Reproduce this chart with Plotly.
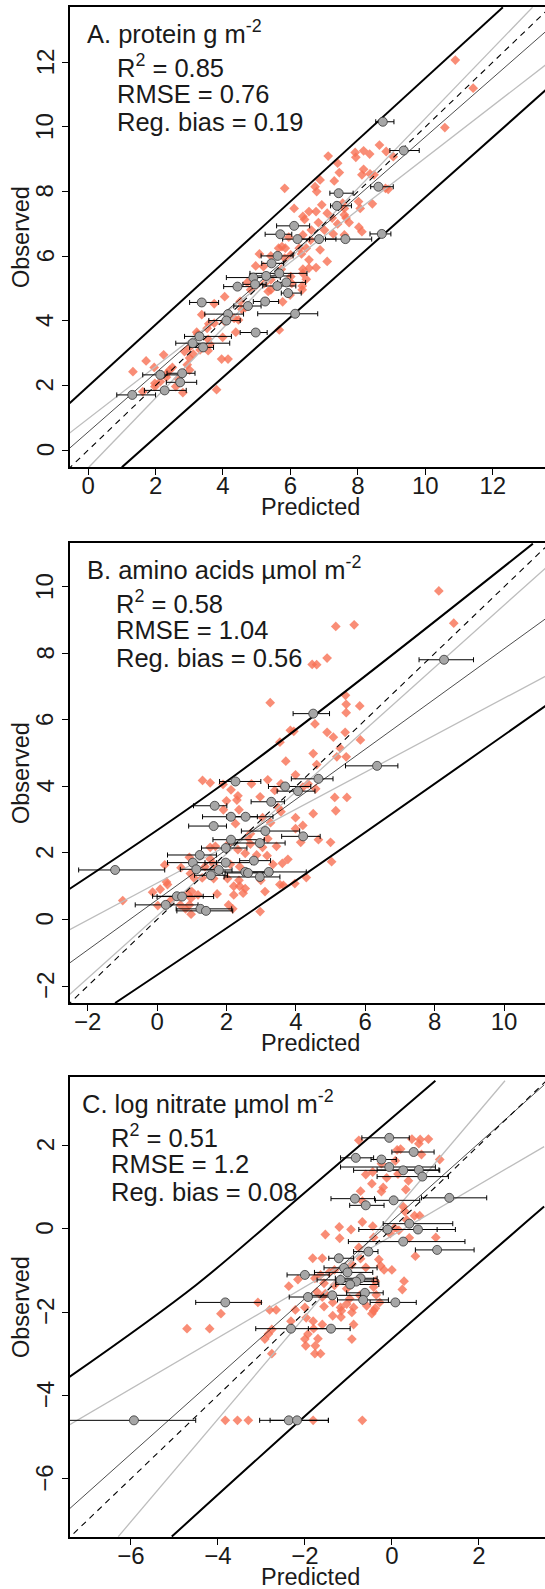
import plotly.graph_objects as go

# ---------------- Panel A : protein g m-2 ----------------
a_pred = [10.89, 11.42, 10.58, 8.64, 8.17, 8.35, 8.84, 9.05, 7.92, 7.94, 7.12, 7.40, 7.45, 8.17, 8.12, 8.36, 8.48,
          7.30, 6.88, 6.73, 6.78, 5.83, 8.82, 8.90, 8.02, 8.43, 8.07, 7.55, 7.60, 6.93, 6.11, 6.55, 6.76, 6.37,
          6.42, 7.09, 7.24, 7.60, 7.65, 7.74, 7.40, 8.03, 8.12, 6.83, 7.01, 6.62, 7.27, 7.60, 6.37, 6.60, 5.95,
          5.85, 5.65, 5.75, 6.88, 6.26, 6.47, 5.08, 5.42, 6.01, 5.83, 6.33, 6.55, 7.09, 6.76, 6.55, 4.97, 5.20,
          6.37, 5.73, 6.01, 6.37, 6.47, 5.42, 4.72, 4.97, 5.23, 6.04, 6.35, 4.82, 5.34, 5.42, 6.35, 5.99, 4.05,
          4.51, 5.77, 3.74, 4.56, 4.66, 3.37, 4.33, 4.46, 4.05, 3.74, 3.58, 3.53, 3.22, 4.38, 5.67, 3.25, 3.99,
          3.56, 3.61, 3.01, 3.32, 3.56, 2.86, 3.12, 2.24, 3.01, 3.96, 4.15, 1.72, 2.94, 1.96, 2.50, 2.42, 3.01,
          1.33, 2.34, 2.32, 1.98, 2.14, 2.67, 2.60, 3.81, 1.98, 2.81, 1.62]
a_obs = [12.07, 11.20, 9.98, 9.44, 9.26, 9.16, 9.24, 9.08, 9.21, 9.06, 9.10, 8.88, 8.59, 8.69, 8.52, 8.55, 8.52,
         8.33, 8.36, 8.15, 8.00, 8.10, 8.10, 8.07, 7.69, 7.62, 7.48, 7.64, 7.48, 7.59, 7.48, 7.38, 7.38, 7.23,
         7.14, 7.33, 7.18, 7.28, 7.18, 7.04, 7.00, 6.90, 6.76, 7.04, 6.81, 6.81, 6.69, 6.66, 6.66, 6.50, 6.59,
         6.25, 6.25, 6.30, 6.20, 6.25, 6.25, 6.07, 6.01, 6.04, 5.94, 6.07, 5.89, 5.84, 5.65, 5.63, 5.70, 5.68,
         5.60, 5.60, 5.37, 5.47, 5.29, 5.27, 5.19, 5.08, 5.16, 5.16, 5.08, 4.96, 4.91, 4.96, 4.96, 4.80, 4.75,
         4.60, 4.59, 4.53, 4.36, 4.41, 4.19, 4.08, 4.03, 3.98, 3.93, 3.91, 3.77, 3.65, 3.65, 3.72, 3.59, 3.49,
         3.43, 3.28, 3.18, 3.10, 3.08, 3.05, 2.97, 2.95, 2.85, 2.82, 2.82, 2.76, 2.64, 2.56, 2.56, 2.48, 2.48,
         2.43, 2.38, 2.26, 2.07, 2.12, 2.21, 1.97, 1.87, 1.97, 1.78, 1.81]
a_grp_pred = [8.74, 9.36, 8.61, 7.43, 7.38, 6.11, 5.70, 6.21, 6.85, 7.63, 8.71, 5.62, 5.44, 5.67, 5.28, 4.90, 4.95,
              4.43, 5.61, 5.88, 5.93, 5.25, 3.37, 4.74, 4.15, 6.14, 4.10, 4.97, 3.30, 3.10, 3.41, 2.14, 2.79, 2.73,
              2.27, 1.31]
a_grp_obs = [10.16, 9.27, 8.15, 7.95, 7.56, 6.94, 6.68, 6.53, 6.53, 6.53, 6.69, 6.01, 5.78, 5.47, 5.39, 5.34, 5.13,
             5.06, 5.08, 5.19, 4.86, 4.60, 4.57, 4.46, 4.21, 4.22, 4.01, 3.64, 3.52, 3.31, 3.18, 2.33, 2.38, 2.10,
             1.85, 1.71]
a_grp_lo = [8.53, 8.95, 8.38, 7.17, 7.19, 5.59, 5.25, 5.77, 6.21, 7.04, 8.36, 5.13, 5.15, 4.80, 4.80, 4.10, 4.59,
            4.02, 5.18, 5.62, 5.73, 4.90, 3.01, 4.32, 3.46, 5.03, 3.58, 4.51, 2.86, 2.60, 3.01, 1.62, 2.34, 2.32,
            1.67, 0.85]
a_grp_hi = [9.07, 9.82, 9.05, 7.86, 7.81, 6.57, 6.04, 6.57, 7.35, 8.41, 8.98, 6.08, 5.80, 6.49, 6.01, 5.70, 5.28,
            4.87, 6.16, 6.45, 6.32, 5.65, 3.87, 5.13, 4.61, 6.81, 4.51, 5.31, 4.25, 4.20, 3.72, 2.76, 3.17, 3.22,
            2.91, 2.00]
a_one_x, a_one_y = [-0.6, 14.0], [-0.6, 14.0]
a_reg_x, a_reg_y = [-0.55, 13.57], [0.06, 12.95]
a_ci1_x, a_ci1_y = [0.02, 13.18], [-0.53, 13.70]
a_ci2_x, a_ci2_y = [-0.55, 13.57], [0.53, 11.92]
a_pi1_x, a_pi1_y = [-0.55, 12.30], [1.45, 13.70]
a_pi2_x, a_pi2_y = [1.00, 13.57], [-0.53, 11.14]
a_ticks = [0, 2, 4, 6, 8, 10, 12]
a_labels = ["A. protein g m<sup>-2</sup>", "R<sup>2</sup> = 0.85", "RMSE = 0.76", "Reg. bias = 0.19"]

# ---------------- Panel B : amino acids ----------------
b_pred = [8.12, 5.15, 5.68, 8.55, 4.90, 4.47, 4.60, 3.26, 5.43, 5.45, 5.84, 5.45, 4.55, 3.84, 3.94, 4.90, 5.42,
          5.08, 3.54, 5.86, 5.28, 4.50, 5.45, 5.18, 3.71, 4.60, 3.99, 1.31, 1.53, 3.19, 2.72, 3.57, 1.90, 4.35,
          4.57, 4.20, 2.13, 3.39, 2.33, 2.97, 5.12, 5.47, 2.00, 2.30, 3.49, 2.36, 1.91, 5.15, 3.57, 4.50, 3.99,
          3.04, 3.27, 4.20, 2.26, 3.99, 2.69, 2.61, 3.19, 4.65, 4.14, 5.00, 2.08, 2.69, 3.44, 1.53, 1.68, 3.04,
          2.33, 2.54, 3.17, 2.87, 0.93, 1.53, 3.77, 5.03, 0.22, 0.69, 1.38, 1.63, 2.11, 2.38, 3.34, 3.61, 4.30,
          0.96, 1.30, 1.63, 2.03, 2.36, 0.27, 0.30, 1.08, 3.64, 3.54, 3.97, 2.21, 2.38, 2.99, 2.54, 0.09, -0.13,
          1.00, 0.88, 1.18, 1.73, 2.48, 2.21, 3.11, -0.99, 0.39, 0.98, 0.02, 0.67, 0.93, 2.06, 2.18, 0.82, 0.98,
          2.97]
b_obs = [9.88, 8.81, 8.86, 8.91, 7.86, 7.67, 7.66, 6.52, 6.74, 6.47, 6.42, 6.22, 5.88, 5.69, 5.66, 5.63, 5.63,
         5.48, 5.33, 5.40, 5.15, 4.99, 4.89, 4.89, 4.76, 4.66, 4.35, 4.18, 4.11, 4.20, 4.08, 4.08, 4.06, 4.08,
         3.93, 3.98, 3.90, 3.88, 3.72, 3.69, 3.67, 3.67, 3.57, 3.59, 3.37, 3.30, 3.30, 3.27, 3.24, 3.18, 3.06,
         3.06, 2.91, 2.83, 2.88, 2.73, 2.58, 2.48, 2.43, 2.40, 2.32, 2.32, 2.30, 2.27, 2.20, 2.17, 2.20, 2.17,
         2.10, 1.99, 1.92, 1.94, 1.87, 1.82, 1.81, 1.74, 1.64, 1.56, 1.59, 1.66, 1.66, 1.59, 1.66, 1.69, 1.26,
         1.38, 1.25, 1.23, 1.23, 1.18, 1.13, 1.05, 1.23, 1.03, 1.05, 1.08, 1.00, 1.00, 1.18, 0.93, 0.91, 0.82,
         0.84, 0.77, 0.74, 0.77, 0.79, 0.74, 0.84, 0.57, 0.57, 0.64, 0.42, 0.44, 0.44, 0.44, 0.32, 0.32, 0.16,
         0.24]
b_grp_pred = [8.27, 4.50, 6.34, 2.26, 4.65, 3.69, 4.06, 3.29, 1.66, 2.13, 2.55, 1.63, 3.12, 4.21, 2.13, 2.96, 1.98,
              1.23, 2.79, 1.03, 1.98, -1.21, 1.13, 1.78, 1.55, 2.54, 2.62, 3.22, 2.96, 0.57, 0.72, 0.25, 1.25, 1.41]
b_grp_obs = [7.81, 6.19, 4.62, 4.15, 4.23, 4.00, 3.86, 3.54, 3.42, 3.09, 3.09, 2.81, 2.66, 2.50, 2.40, 2.30, 2.15,
             1.94, 1.77, 1.71, 1.71, 1.49, 1.51, 1.49, 1.33, 1.43, 1.40, 1.43, 1.28, 0.70, 0.69, 0.44, 0.32, 0.26]
b_grp_lo = [7.55, 3.92, 5.43, 1.80, 3.87, 3.21, 3.46, 2.71, 1.05, 1.31, 2.00, 0.91, 2.43, 3.59, 1.61, 2.08, 1.28,
            0.30, 2.38, 0.30, 1.38, -2.26, 0.67, 1.06, 1.08, 1.88, 1.96, 2.48, 1.93, -0.13, 0.00, -0.63, 0.55, 0.57]
b_grp_hi = [9.12, 4.97, 6.94, 2.99, 5.07, 4.43, 4.55, 3.67, 2.01, 2.89, 3.34, 2.00, 4.11, 4.70, 3.09, 3.69, 2.59,
            1.71, 3.27, 1.71, 2.72, 0.22, 1.81, 2.16, 2.03, 3.32, 3.19, 4.30, 3.54, 1.33, 1.63, 1.18, 2.15, 2.18]
b_one_x, b_one_y = [-2.6, 11.4], [-2.6, 11.4]
b_reg_x, b_reg_y = [-2.55, 11.22], [-1.33, 9.06]
b_ci1_x, b_ci1_y = [-2.55, 11.22], [-2.28, 10.59]
b_ci2_x, b_ci2_y = [-2.55, 11.22], [-0.32, 7.33]
b_pi1_x, b_pi1_y = [-2.55, 2.20, 10.83], [0.90, 4.30, 11.30]
b_pi2_x, b_pi2_y = [-1.21, 3.00, 11.22], [-2.51, 0.45, 6.44]
b_ticks = [-2, 0, 2, 4, 6, 8, 10]
b_labels = ["B. amino acids µmol m<sup>-2</sup>", "R<sup>2</sup> = 0.58", "RMSE = 1.04", "Reg. bias = 0.56"]

# ---------------- Panel C : log nitrate ----------------
c_pred = [-0.76, 0.46, 0.65, 0.84, 0.62, 0.12, 0.20, 0.68, 1.10, 0.08, -0.24, -0.44, -0.60, 0.14, 0.38, -0.12,
          -0.46, -0.20, -0.24, -0.72, 0.32, -0.68, 0.26, 0.30, 0.52, 0.64, -0.68, -0.44, 0.34, -1.21, -0.94, 0.06,
          0.16, -0.04, -1.53, -0.42, 0.40, 1.01, -1.20, -0.76, 0.54, -0.30, -0.72, -1.82, -1.60, -0.26, -0.92,
          -0.60, -0.18, 0.00, -1.32, -1.44, -1.64, -1.77, -2.16, -1.56, -1.32, -0.38, 0.28, -2.37, -0.42, 0.24,
          -1.04, -1.72, -1.53, -0.74, -0.36, -1.60, -0.97, -1.36, -0.28, -3.08, -0.58, -1.04, -0.42, -0.38, -0.88,
          -1.18, -1.16, -1.56, -2.00, -2.22, -2.81, -2.66, -0.92, -0.46, -3.93, -1.97, -1.36, -1.17, -1.81, -2.32,
          -0.88, -1.60, -4.71, -4.19, -2.76, -1.80, -1.93, -2.84, -1.70, -2.92, -2.00, -0.92, -1.98, -1.76, -2.76,
          -1.77, -1.64, -3.83, -3.55, -3.30, -1.81, -0.68]
c_obs = [2.12, 2.15, 2.14, 2.15, 2.04, 1.89, 1.91, 1.78, 1.66, 1.63, 1.56, 1.36, 1.30, 1.31, 1.15, 1.22, 1.08,
         0.99, 0.89, 0.90, 0.94, 0.66, 0.53, 0.41, 0.31, 0.31, 0.16, 0.06, 0.21, 0.04, -0.02, 0.02, -0.04, -0.12,
         -0.14, -0.21, -0.22, -0.21, -0.23, -0.45, -0.66, -0.74, -0.72, -0.71, -0.71, -0.89, -0.86, -0.93, -0.99,
         -0.99, -0.99, -1.05, -1.11, -1.19, -1.22, -1.31, -1.36, -1.26, -1.26, -1.38, -1.40, -1.46, -1.44, -1.52,
         -1.56, -1.60, -1.59, -1.64, -1.68, -1.77, -1.77, -1.77, -1.85, -1.81, -1.97, -1.91, -1.89, -1.89, -1.97,
         -1.87, -1.89, -1.95, -1.95, -1.95, -2.01, -2.04, -2.04, -2.14, -2.09, -2.12, -2.22, -2.22, -2.30, -2.30,
         -2.40, -2.40, -2.42, -2.40, -2.53, -2.53, -2.64, -2.65, -2.65, -2.65, -2.81, -2.81, -3.00, -3.00, -3.00,
         -4.60, -4.60, -4.60, -4.60, -4.60]
c_grp_pred = [-0.06, 0.50, -0.83, -0.24, -0.06, 0.26, 0.62, 0.70, -0.85, 0.04, 1.32, -0.60, 0.40, -0.10, 0.60,
              0.26, 1.04, -0.54, -1.22, -1.10, -1.02, -2.00, -0.72, -1.18, -0.82, -0.96, -0.62, -1.93, -1.37, -0.66,
              -3.83, 0.08, -2.32, -1.40, -5.93, -2.37, -2.18]
c_grp_obs = [2.18, 1.84, 1.70, 1.66, 1.48, 1.40, 1.41, 1.25, 0.72, 0.68, 0.74, 0.56, 0.12, -0.02, -0.02, -0.31,
             -0.51, -0.55, -0.71, -0.94, -1.05, -1.11, -1.19, -1.23, -1.27, -1.34, -1.54, -1.64, -1.60, -1.71, -1.77,
             -1.77, -2.40, -2.40, -4.60, -4.60, -4.60]
c_grp_lo = [-0.69, 0.00, -1.18, -0.48, -1.18, -0.88, -0.34, -0.34, -1.40, -0.38, 0.68, -0.97, -0.20, -0.76, -0.20,
            -1.00, 0.54, -0.88, -1.45, -1.56, -1.78, -2.41, -1.30, -1.72, -1.29, -1.29, -1.04, -2.36, -1.84, -1.25,
            -4.51, -0.50, -3.13, -1.92, -8.00, -3.04, -2.80]
c_grp_hi = [0.40, 0.97, -0.42, 0.10, 1.00, 1.10, 1.08, 1.30, -0.40, 0.64, 2.18, -0.18, 1.40, 1.46, 1.04, 1.68,
            1.89, -0.32, -0.88, -0.34, -0.44, -1.44, -0.34, -0.42, -0.32, -0.30, -0.20, -1.42, -0.72, -0.08, -3.00,
            0.56, -1.45, -0.96, -4.51, -1.46, -1.46]
c_one_x, c_one_y = [-7.5, 3.7], [-7.5, 3.7]
c_reg_x, c_reg_y = [-7.43, 3.50], [-6.74, 3.45]
c_ci1_x, c_ci1_y = [-6.29, 2.60], [-7.39, 3.55]
c_ci2_x, c_ci2_y = [-7.43, 3.50], [-4.72, 1.97]
c_pi1_x, c_pi1_y = [-7.43, -4.50, -2.10, 1.00], [-3.57, -1.35, 0.78, 3.55]
c_pi2_x, c_pi2_y = [-5.06, -0.80, 3.50], [-7.39, -3.38, 0.53]
c_ticks = [-6, -4, -2, 0, 2]
c_labels = ["C. log nitrate µmol m<sup>-2</sup>", "R<sup>2</sup> = 0.51", "RMSE = 1.2", "Reg. bias = 0.08"]

# ---------------- layout geometry ----------------
W, H = 545, 1589
ML, MR, MT, MB = 70, 0, 7, 52
PW, PH = W - ML - MR, H - MT - MB
FONT = "Liberation Sans, Arial, Helvetica, sans-serif"
ORANGE = "rgba(247,112,84,0.80)"
TXT = "#1a1a1a"


def px_x(p):
    return (p - ML) / PW


def px_y(p):
    return (H - MB - p) / PH


def tick_text(v):
    return ("\u2212" + str(abs(v))) if v < 0 else str(v)


panels = [
    dict(pred=a_pred, obs=a_obs, gp=a_grp_pred, go_=a_grp_obs, glo=a_grp_lo, ghi=a_grp_hi,
         one=(a_one_x, a_one_y), reg=(a_reg_x, a_reg_y), ci=[(a_ci1_x, a_ci1_y), (a_ci2_x, a_ci2_y)],
         pi=[(a_pi1_x, a_pi1_y), (a_pi2_x, a_pi2_y)], ticks=a_ticks, labels=a_labels,
         xr=[-0.537, 13.55], yr=[-0.52, 13.71], top=7, bot=467, tx=(85, 115)),
    dict(pred=b_pred, obs=b_obs, gp=b_grp_pred, go_=b_grp_obs, glo=b_grp_lo, ghi=b_grp_hi,
         one=(b_one_x, b_one_y), reg=(b_reg_x, b_reg_y), ci=[(b_ci1_x, b_ci1_y), (b_ci2_x, b_ci2_y)],
         pi=[(b_pi1_x, b_pi1_y), (b_pi2_x, b_pi2_y)], ticks=b_ticks, labels=b_labels,
         xr=[-2.51, 11.18], yr=[-2.51, 11.32], top=543, bot=1003, tx=(85, 114)),
    dict(pred=c_pred, obs=c_obs, gp=c_grp_pred, go_=c_grp_obs, glo=c_grp_lo, ghi=c_grp_hi,
         one=(c_one_x, c_one_y), reg=(c_reg_x, c_reg_y), ci=[(c_ci1_x, c_ci1_y), (c_ci2_x, c_ci2_y)],
         pi=[(c_pi1_x, c_pi1_y), (c_pi2_x, c_pi2_y)], ticks=c_ticks, labels=c_labels,
         xr=[-7.40, 3.52], yr=[-7.40, 3.64], top=1077, bot=1537, tx=(80, 109)),
]

fig = go.Figure()
annotations = []
layout = {}
for i, p in enumerate(panels):
    n = "" if i == 0 else str(i + 1)
    xa, ya = "x" + n, "y" + n
    # orange diamonds (individual samples)
    fig.add_trace(go.Scatter(x=p["pred"], y=p["obs"], mode="markers", xaxis=xa, yaxis=ya,
                             marker=dict(symbol="diamond", size=7.5, color=ORANGE, line=dict(width=0)),
                             showlegend=False, hoverinfo="skip"))
    # gray band lines
    for lx, ly in p["ci"]:
        fig.add_trace(go.Scatter(x=lx, y=ly, mode="lines", xaxis=xa, yaxis=ya, line_shape="spline",
                                 line=dict(color="#BDBDBD", width=1.3), showlegend=False, hoverinfo="skip"))
    # 1:1 line
    fig.add_trace(go.Scatter(x=p["one"][0], y=p["one"][1], mode="lines", xaxis=xa, yaxis=ya,
                             line=dict(color="black", width=1.1, dash="6px,5px"), showlegend=False,
                             hoverinfo="skip"))
    # regression line
    fig.add_trace(go.Scatter(x=p["reg"][0], y=p["reg"][1], mode="lines", xaxis=xa, yaxis=ya,
                             line=dict(color="black", width=0.7), showlegend=False, hoverinfo="skip"))
    # prediction bounds
    for lx, ly in p["pi"]:
        fig.add_trace(go.Scatter(x=lx, y=ly, mode="lines", xaxis=xa, yaxis=ya, line_shape="spline",
                                 line=dict(color="black", width=2.0), showlegend=False, hoverinfo="skip"))
    # group means with horizontal error bars
    plus = [h - c for h, c in zip(p["ghi"], p["gp"])]
    minus = [c - l for c, l in zip(p["gp"], p["glo"])]
    fig.add_trace(go.Scatter(x=p["gp"], y=p["go_"], mode="markers", xaxis=xa, yaxis=ya,
                             error_x=dict(type="data", symmetric=False, array=plus, arrayminus=minus,
                                          color="black", thickness=1.0, width=2.5),
                             marker=dict(symbol="circle", size=9, color="#A6A6A6",
                                         line=dict(color="#333333", width=0.8)),
                             showlegend=False, hoverinfo="skip"))

    dom_y = [px_y(p["bot"]), px_y(p["top"])]
    layout["xaxis" + n] = dict(domain=[0, 1], range=p["xr"], anchor=ya, tickmode="array", tickvals=p["ticks"],
                               ticks="outside", ticklen=6, tickwidth=1.2, tickcolor="black",
                               showline=True, linecolor="black", linewidth=1.6, mirror=True,
                               showgrid=False, zeroline=False, ticklabelstandoff=-10,
                               tickfont=dict(family=FONT, size=24, color=TXT))
    layout["yaxis" + n] = dict(domain=dom_y, range=p["yr"], anchor=xa, tickmode="array", tickvals=p["ticks"],
                               ticks="outside", ticklen=6, tickwidth=1.2, tickcolor="black",
                               showline=True, linecolor="black", linewidth=1.6, mirror=False,
                               showgrid=False, zeroline=False, showticklabels=False)
    # y tick labels (rotated, parallel to the axis)
    for v in p["ticks"]:
        annotations.append(dict(text=tick_text(v), x=px_x(45), y=v, xref="paper", yref=ya,
                                xanchor="center", yanchor="middle", showarrow=False, textangle=-90,
                                font=dict(family=FONT, size=24, color=TXT)))
    # panel texts
    top = p["top"]
    ys = [top + 25, top + 59, top + 87, top + 115]
    xs = [p["tx"][0], p["tx"][1], p["tx"][1], p["tx"][1]]
    for t, xx, yy in zip(p["labels"], xs, ys):
        annotations.append(dict(text=t, x=px_x(xx), y=px_y(yy), xref="paper", yref="paper",
                                xanchor="left", yanchor="middle", showarrow=False,
                                font=dict(family=FONT, size=25.5, color=TXT)))
    # axis titles
    annotations.append(dict(text="Predicted", x=px_x(310), y=px_y(p["bot"] + 40), xref="paper", yref="paper",
                            xanchor="center", yanchor="middle", showarrow=False,
                            font=dict(family=FONT, size=23.5, color=TXT)))
    annotations.append(dict(text="Observed", x=px_x(21), y=px_y((p["top"] + p["bot"]) / 2), xref="paper",
                            yref="paper", xanchor="center", yanchor="middle", showarrow=False, textangle=-90,
                            font=dict(family=FONT, size=23.5, color=TXT)))

fig.update_layout(width=W, height=H, margin=dict(l=ML, r=MR, t=MT, b=MB, pad=0),
                  paper_bgcolor="white", plot_bgcolor="white", annotations=annotations, **layout)
fig.write_html("out.html", config={"displayModeBar": False},
               post_script="document.body.style.margin='0';document.body.style.padding='0';"
                           "document.documentElement.style.overflow='hidden';"
                           "document.body.style.overflow='hidden';")
